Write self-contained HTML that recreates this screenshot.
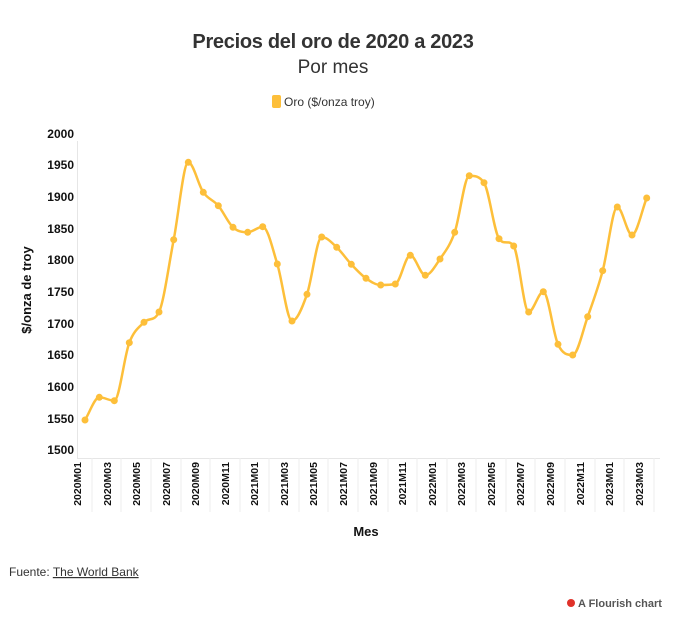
<!DOCTYPE html>
<html><head><meta charset="utf-8"><style>
body{margin:0;background:#fff;width:689px;height:615px;overflow:hidden;font-family:"Liberation Sans",sans-serif}
</style></head><body>
<svg width="689" height="615" xmlns="http://www.w3.org/2000/svg" font-family="Liberation Sans, sans-serif">
<text x="333" y="48" text-anchor="middle" font-size="20" font-weight="bold" fill="#333" letter-spacing="-0.3">Precios del oro de 2020 a 2023</text>
<text x="333" y="73" text-anchor="middle" font-size="19" fill="#333">Por mes</text>
<rect x="272" y="95" width="9" height="13" rx="2" fill="#fdbf3a"/>
<text x="284" y="106" font-size="12" fill="#333">Oro ($/onza troy)</text>
<g font-size="12" font-weight="bold" fill="#111" text-anchor="end">
<text x="74" y="138">2000</text><text x="74" y="169">1950</text><text x="74" y="201">1900</text><text x="74" y="233">1850</text><text x="74" y="264">1800</text><text x="74" y="296">1750</text><text x="74" y="328">1700</text><text x="74" y="359">1650</text><text x="74" y="391">1600</text><text x="74" y="423">1550</text><text x="74" y="454">1500</text>
</g>
<line x1="77.5" y1="141" x2="77.5" y2="458" stroke="#e6e6e6"/>
<line x1="77" y1="458.5" x2="660" y2="458.5" stroke="#e6e6e6"/>
<g stroke="#eee">
<line x1="92" y1="458" x2="92" y2="512"/><line x1="121" y1="458" x2="121" y2="512"/><line x1="151" y1="458" x2="151" y2="512"/><line x1="181" y1="458" x2="181" y2="512"/><line x1="210" y1="458" x2="210" y2="512"/><line x1="240" y1="458" x2="240" y2="512"/><line x1="269" y1="458" x2="269" y2="512"/><line x1="299" y1="458" x2="299" y2="512"/><line x1="328" y1="458" x2="328" y2="512"/><line x1="358" y1="458" x2="358" y2="512"/><line x1="388" y1="458" x2="388" y2="512"/><line x1="417" y1="458" x2="417" y2="512"/><line x1="447" y1="458" x2="447" y2="512"/><line x1="476" y1="458" x2="476" y2="512"/><line x1="506" y1="458" x2="506" y2="512"/><line x1="535" y1="458" x2="535" y2="512"/><line x1="565" y1="458" x2="565" y2="512"/><line x1="595" y1="458" x2="595" y2="512"/><line x1="624" y1="458" x2="624" y2="512"/><line x1="654" y1="458" x2="654" y2="512"/>
</g>
<g font-size="10.5" font-weight="bold" fill="#111" text-anchor="end" dominant-baseline="middle">
<text transform="translate(78,462) rotate(-90)">2020M01</text>
<text transform="translate(108,462) rotate(-90)">2020M03</text>
<text transform="translate(137,462) rotate(-90)">2020M05</text>
<text transform="translate(167,462) rotate(-90)">2020M07</text>
<text transform="translate(196,462) rotate(-90)">2020M09</text>
<text transform="translate(226,462) rotate(-90)">2020M11</text>
<text transform="translate(255,462) rotate(-90)">2021M01</text>
<text transform="translate(285,462) rotate(-90)">2021M03</text>
<text transform="translate(314,462) rotate(-90)">2021M05</text>
<text transform="translate(344,462) rotate(-90)">2021M07</text>
<text transform="translate(374,462) rotate(-90)">2021M09</text>
<text transform="translate(403,462) rotate(-90)">2021M11</text>
<text transform="translate(433,462) rotate(-90)">2022M01</text>
<text transform="translate(462,462) rotate(-90)">2022M03</text>
<text transform="translate(492,462) rotate(-90)">2022M05</text>
<text transform="translate(521,462) rotate(-90)">2022M07</text>
<text transform="translate(551,462) rotate(-90)">2022M09</text>
<text transform="translate(581,462) rotate(-90)">2022M11</text>
<text transform="translate(610,462) rotate(-90)">2023M01</text>
<text transform="translate(640,462) rotate(-90)">2023M03</text>
</g>
<text transform="translate(31,290) rotate(-90)" text-anchor="middle" font-size="13" font-weight="bold" fill="#111">$/onza de troy</text>
<text x="366" y="536" text-anchor="middle" font-size="13" font-weight="bold" fill="#111">Mes</text>
<text x="9" y="576" font-size="12" fill="#333">Fuente: <tspan text-decoration="underline">The World Bank</tspan></text>
<circle cx="571" cy="603" r="4" fill="#e0322a"/>
<text x="578" y="607" font-size="11" font-weight="bold" fill="#555">A Flourish chart</text>
<path id="ln" fill="none" stroke="#fdbf3a" stroke-width="2.5" stroke-linejoin="round"/>
<g id="dots" fill="#fdbf3a"></g>
</svg>
<script>
var p=[[85,420],[99.3,397.3],[114.3,400.7],[129.3,342.7],[144,322.3],[159,312],[173.7,239.7],[188.3,162.3],[203.3,192.3],[218.3,205.7],[233,227.3],[247.7,232.3],[262.7,226.7],[277.3,264],[292,321],[307,294.3],[321.7,237],[336.7,247.3],[351.3,264.3],[366,278.3],[380.7,285],[395.3,284],[410.3,255.3],[425.3,275.3],[440,259],[454.7,232.3],[469.3,175.7],[484,182.7],[499,238.7],[513.7,246],[528.7,312],[543.3,291.7],[558,344.3],[572.7,355],[587.7,316.7],[602.7,270.7],[617.3,207],[632,235],[646.7,198]];
var n=p.length,s=[],m=[];
for(var i=0;i<n-1;i++)s.push((p[i+1][1]-p[i][1])/(p[i+1][0]-p[i][0]));
m[0]=s[0];m[n-1]=s[n-2];
for(var i=1;i<n-1;i++){if(s[i-1]*s[i]<=0)m[i]=0;else{var h0=p[i][0]-p[i-1][0],h1=p[i+1][0]-p[i][0];m[i]=(s[i-1]*h1+s[i]*h0)/(h0+h1);var lim=3*Math.min(Math.abs(s[i-1]),Math.abs(s[i]));if(Math.abs(m[i])>lim)m[i]=lim*Math.sign(m[i]);}}
var d="M"+p[0][0]+","+p[0][1];
for(var i=0;i<n-1;i++){var h=(p[i+1][0]-p[i][0])/3;
d+=" C"+(p[i][0]+h)+","+(p[i][1]+m[i]*h)+" "+(p[i+1][0]-h)+","+(p[i+1][1]-m[i+1]*h)+" "+p[i+1][0]+","+p[i+1][1];}
document.getElementById("ln").setAttribute("d",d);
var g=document.getElementById("dots"),t="";
p.forEach(function(q){t+='<circle cx="'+q[0]+'" cy="'+q[1]+'" r="3.5"/>';});
g.innerHTML=t;
</script>
</body></html>
